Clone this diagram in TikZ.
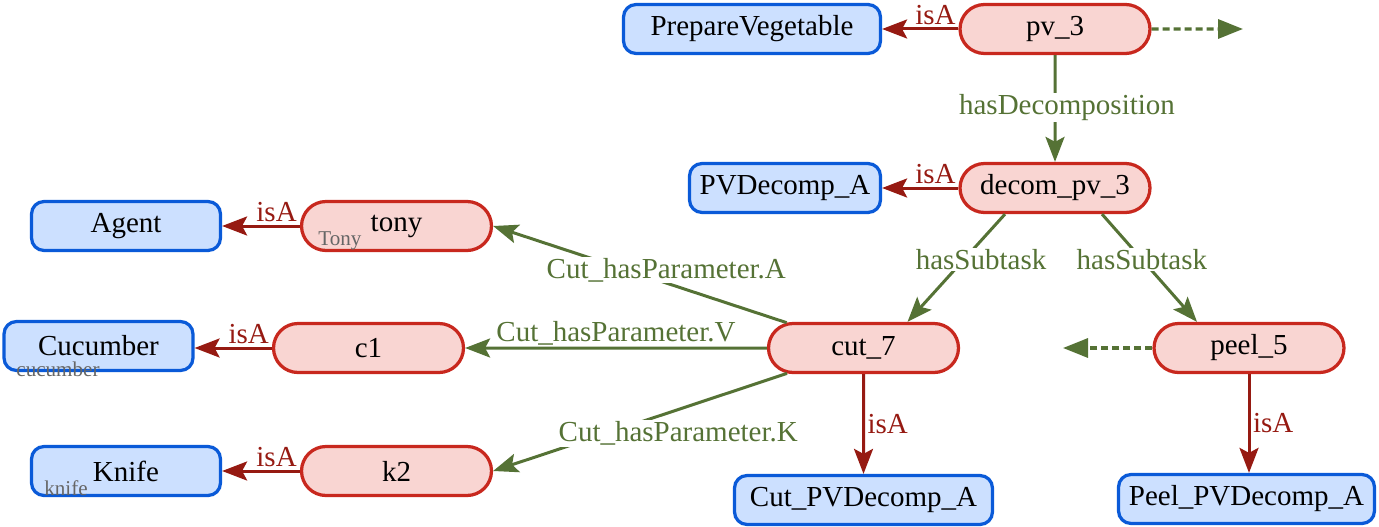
\documentclass[tikz,border=0pt]{standalone}
\usepackage{fontspec}
\setmainfont{Liberation Serif}
\usetikzlibrary{arrows.meta,shapes.misc}
\definecolor{bluefill}{RGB}{204,224,255}
\definecolor{bluedraw}{RGB}{10,90,216}
\definecolor{redfill}{RGB}{249,213,210}
\definecolor{reddraw}{RGB}{200,40,30}
\definecolor{isacol}{RGB}{150,26,18}
\definecolor{relcol}{RGB}{85,114,53}
\definecolor{graytxt}{RGB}{102,102,102}
\newcommand{\mainsz}{\fontsize{16.5}{19}\selectfont}
\newcommand{\notesz}{\fontsize{12}{13}\selectfont}
\tikzset{
  cls/.style={draw=bluedraw, fill=bluefill, line width=0.065cm, rounded corners=0.25cm,
    minimum width=3.78cm, minimum height=0.98cm, inner sep=0pt, font=\mainsz},
  inst/.style={rounded rectangle, draw=reddraw, fill=redfill, line width=0.065cm,
    minimum width=3.8cm, minimum height=0.98cm, inner sep=0pt, font=\mainsz},
  isa/.style={draw=isacol, line width=0.06cm, -{Stealth[length=0.5cm,width=0.38cm,inset=0.1cm]}},
  rel/.style={draw=relcol, line width=0.06cm, -{Stealth[length=0.5cm,width=0.38cm,inset=0.1cm]}},
  dashrel/.style={draw=relcol, line width=0.065cm, dash pattern=on 0.14cm off 0.08cm,
    -{Triangle[length=0.5cm,width=0.38cm]}},
  isal/.style={text=isacol, font=\mainsz, inner sep=0.05cm},
  rell/.style={text=relcol, font=\mainsz, fill=white, inner sep=0.03cm},
  note/.style={text=graytxt, font=\notesz, inner sep=0pt}
}
\begin{document}
\begin{tikzpicture}[x=0.02cm,y=-0.02cm]
\useasboundingbox (0,0) rectangle (1379,527);
% classes
\node[cls, minimum width=5.14cm] (pv) at (752,29) {PrepareVegetable};
\node[cls, minimum width=3.82cm] (pvd) at (785,188) {PVDecomp\_A};
\node[cls] (agent) at (126,226) {Agent};
\node[cls] (cucumber) at (98.5,346) {Cucumber};
\node[cls] (knife) at (126,471) {Knife};
\node[cls, minimum width=5.16cm] (cutpvd) at (863.5,500) {Cut\_PVDecomp\_A};
\node[cls, minimum width=5.12cm] (peelpvd) at (1246.5,499) {Peel\_PVDecomp\_A};
% instances
\node[inst] (pv3) at (1055,29) {pv\_3};
\node[inst] (decom) at (1055,188) {decom\_pv\_3};
\node[inst] (tony) at (396.5,226) {tony};
\node[inst] (c1) at (368.5,348) {c1};
\node[inst] (k2) at (396.5,471) {k2};
\node[inst] (cut7) at (863.5,348) {cut\_7};
\node[inst] (peel5) at (1249,348) {peel\_5};
% small notes
\node[note] (ntony) at (340,241) {Tony};
\node[note] (ncuc) at (58,369) {cucumber};
\node[note] (nknife) at (66,488) {knife};
% free ends
\coordinate (pvout) at (1243,29);
\coordinate (peelout) at (1063,348);
% isA edges
\draw[isa] (pv3) -- node[isal, above, pos=0.3] {isA} (pv);
\draw[isa] (decom) -- node[isal, above, pos=0.3] {isA} (pvd);
\draw[isa] (tony) -- node[isal, above, pos=0.3] {isA} (agent);
\draw[isa] (c1) -- node[isal, above, pos=0.3] {isA} (c1 -| cucumber.east);
\draw[isa] (k2) -- node[isal, above, pos=0.3] {isA} (knife);
\draw[isa] (cut7) -- node[isal, right, pos=0.5] {isA} (cutpvd);
\draw[isa] (peel5.south) -- node[isal, right, pos=0.5] {isA} (peel5.south |- peelpvd.north);
% relations
\draw[rel] (pv3) -- node[rell, pos=0.49, xshift=0.24cm] {hasDecomposition} (decom);
\draw[rel] ([xshift=-1cm]decom.south) -- node[rell, pos=0.42, xshift=0.34cm] {hasSubtask} ([xshift=0.88cm]cut7.north);
\draw[rel] ([xshift=0.94cm]decom.south) -- node[rell, pos=0.42] {hasSubtask} ([xshift=-1.04cm]peel5.north);
\draw[rel] (cut7) -- node[rell, pos=0.41, yshift=0.26cm] {Cut\_hasParameter.A} (tony.east);
\draw[rel] (cut7) -- node[rell, above, pos=0.5, fill=none] {Cut\_hasParameter.V} (c1);
\draw[rel] (cut7) -- node[rell, pos=0.37, yshift=-0.48cm] {Cut\_hasParameter.K} (k2.east);
\draw[dashrel] (pv3) -- (pvout);
\draw[dashrel] (peel5) -- (peelout);
\end{tikzpicture}
\end{document}
